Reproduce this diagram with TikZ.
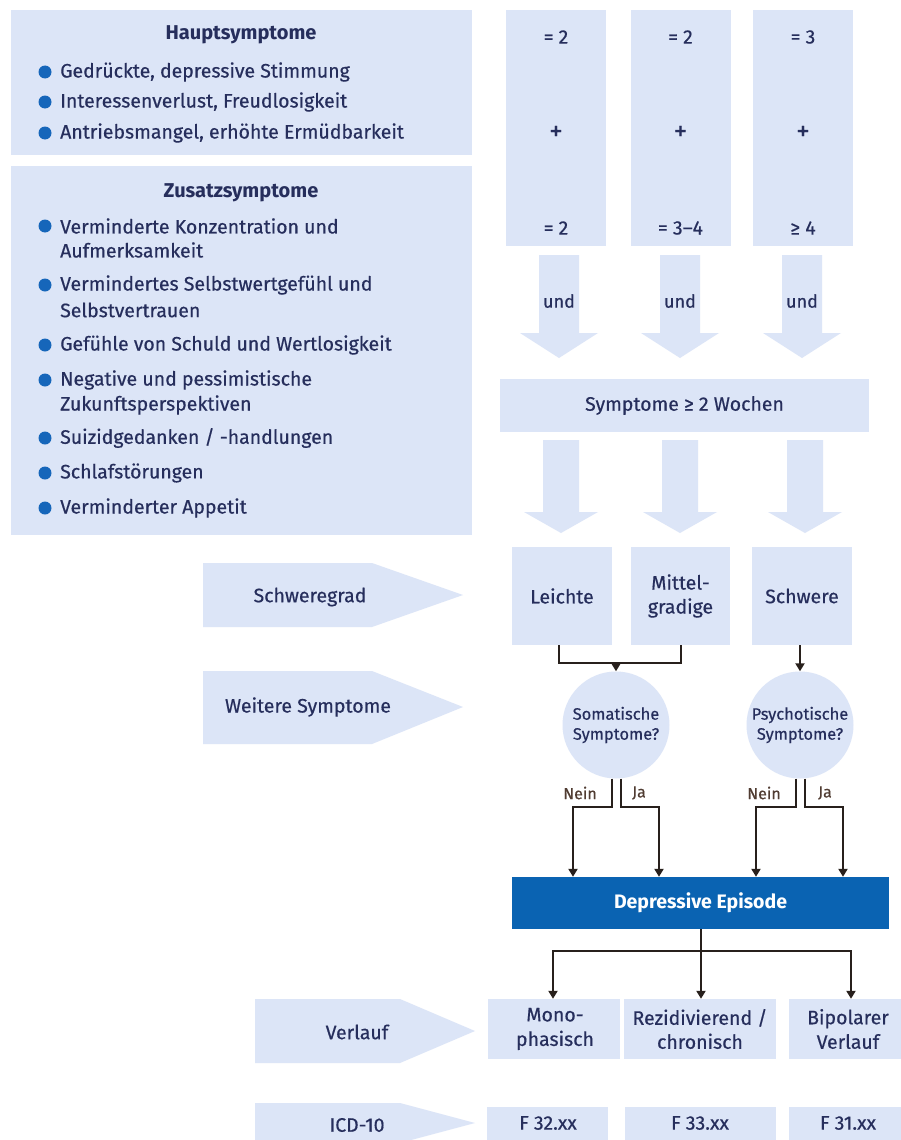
\documentclass[tikz,border=0pt]{standalone}
\usepackage{fontspec}
\setmainfont{Fira Sans}
\newfontfamily\medf{Fira Sans}[FakeBold=0.5]
\usetikzlibrary{arrows.meta}
\definecolor{lb}{RGB}{220,229,247}
\definecolor{txt}{RGB}{38,46,92}
\definecolor{bul}{RGB}{22,102,186}
\definecolor{dep}{RGB}{10,99,178}
\definecolor{ln}{RGB}{40,32,28}
\definecolor{yn}{RGB}{80,60,50}
\begin{document}
\begin{tikzpicture}[x=1pt,y=-1pt,
  box/.style={fill=lb,draw=none,inner sep=0pt,text=txt,align=center,font=\medf\fontsize{19.5}{24}\selectfont},
  lbl/.style={inner sep=0pt,text=txt,font=\medf\fontsize{19.5}{24.5}\selectfont},
  plus/.style={inner sep=0pt,text=txt,font=\medf\fontsize{27}{27}\selectfont},
  item/.style={inner sep=0pt,text=txt,anchor=west,font=\medf\fontsize{19.5}{24}\selectfont},
  head/.style={inner sep=0pt,text=txt,font=\bfseries\fontsize{20}{24}\selectfont},
  dot/.style={circle,fill=bul,inner sep=0pt,minimum size=13pt},
  circ/.style={circle,fill=lb,inner sep=0pt,minimum size=107pt,text=txt,align=center,font=\medf\fontsize{16.5}{20}\selectfont},
  yn/.style={inner sep=0pt,text=yn,font=\medf\fontsize{16}{18}\selectfont},
  conn/.style={draw=ln,line width=2pt},
  arr/.style={conn,-{Triangle[length=8pt,width=9pt]}},
  bigarrow/.style={fill=lb}]
\useasboundingbox (0,0) rectangle (901,1140);
\clip (0,0) rectangle (901,1140);
\fill[white] (0,0) rectangle (901,1140);

% left boxes
\node[box,minimum width=461pt,minimum height=145pt] (haupt) at (241.5,82.5) {};
\node[box,minimum width=461pt,minimum height=369pt] (zusatz) at (241.5,350.5) {};
\node[head] (hauptT) at (241,35) {Hauptsymptome};
\node[head] (zusatzT) at (241,193) {Zusatzsymptome};
\foreach \y/\t [count=\i] in {72/{Gedrückte, depressive Stimmung},102/{Interessenverlust, Freudlosigkeit},133/{Antriebsmangel, erhöhte Ermüdbarkeit}}{
  \node[dot] (hd\i) at (45,\y) {};
  \node[item] (h\i) at (60,\y) {\t};
}
\foreach \y/\t [count=\i] in {226/{Verminderte Konzentration und},285/{Vermindertes Selbstwertgefühl und},345/{Gefühle von Schuld und Wertlosigkeit},380/{Negative und pessimistische},438/{Suizidgedanken / -handlungen},473/{Schlafstörungen},508/{Verminderter Appetit}}{
  \node[dot] (zd\i) at (45,\y) {};
  \node[item] (z\i) at (60,\y) {\t};
}
\node[item] (z1b) at (60,250) {Aufmerksamkeit};
\node[item] (z2b) at (60,310) {Selbstvertrauen};
\node[item] (z4b) at (60,405) {Zukunftsperspektiven};

% columns
\foreach \x/\a/\b [count=\i] in {556/{= 2}/{= 2},680.5/{= 2}/{= 3–4},803/{= 3}/{≥ 4}}{
  \node[box,minimum width=100pt,minimum height=236pt] (col\i) at (\x,128) {};
  \node[lbl] (cola\i) at (\x,37) {\a};
  \node[plus] (colp\i) at (\x,133) {+};
  \node[lbl] (colb\i) at (\x,228) {\b};
}
% "und" arrows
\foreach \cx [count=\i] in {559,680,802}{
  \fill[bigarrow] ({\cx-20},255) -- ({\cx+20},255) -- ({\cx+20},333) -- ({\cx+39},333) -- (\cx,358) -- ({\cx-39},333) -- ({\cx-20},333) -- cycle;
  \node[lbl,font=\medf\fontsize{18}{20}\selectfont] (und\i) at (\cx,301) {und};
}
\node[box,minimum width=369pt,minimum height=53pt] (wochen) at (684.5,405.5) {Symptome ≥ 2 Wochen};
% second arrows
\foreach \cx in {561,680,805}{
  \fill[bigarrow] ({\cx-18},440) -- ({\cx+18},440) -- ({\cx+18},512) -- ({\cx+37},512) -- (\cx,533) -- ({\cx-37},512) -- ({\cx-18},512) -- cycle;
}
% severity boxes
\node[box,minimum width=100pt,minimum height=98pt] (leicht) at (562,596) {Leichte};
\node[box,minimum width=99pt,minimum height=98pt] (mittel) at (680.5,596) {Mittel-\\gradige};
\node[box,minimum width=100pt,minimum height=98pt] (schwer) at (802,596) {Schwere};

% pentagon labels
\fill[bigarrow] (203,563) -- (372,563) -- (463,595) -- (372,627) -- (203,627) -- cycle;
\node[lbl] (schweregrad) at (310,597) {Schweregrad};
\fill[bigarrow] (203,671) -- (372,671) -- (463,707) -- (372,744) -- (203,744) -- cycle;
\node[lbl] (weitere) at (308,707) {Weitere Symptome};
\fill[bigarrow] (255,999) -- (400,999) -- (475,1031) -- (400,1063) -- (255,1063) -- cycle;
\node[lbl] (verlauf) at (357,1032) {Verlauf};
\fill[bigarrow] (255,1103) -- (400,1103) -- (475,1123) -- (400,1143) -- (255,1143) -- cycle;
\node[lbl] (icd) at (357,1125) {ICD-10};

% circles
\node[circ] (som) at (616,725) {Somatische\\Symptome?};
\node[circ] (psy) at (800,725) {Psychotische\\Symptome?};

% connectors to circles
\coordinate (mrg) at (616,663);
\draw[conn] (leicht.south -| 559,0) -- (559,663) -- (681,663) -- (mittel.south -| 681,0);
\draw[arr] (mrg) -- (som.north);
\draw[arr] (schwer.south -| 800,0) -- (psy.north);

% depressive episode
\node[box,fill=dep,text=white,font=\bfseries\fontsize{19.5}{22}\selectfont,minimum width=377pt,minimum height=52pt] (dep) at (700.5,903) {Depressive Episode};

% Nein / Ja
\draw[arr] ([xshift=-4.5pt]som.south) -- (611.5,807) -- (573,807) -- (dep.north -| 573,0);
\draw[arr] ([xshift=4.5pt]som.south) -- (620.5,807) -- (659,807) -- (dep.north -| 659,0);
\draw[arr] ([xshift=-4.5pt]psy.south) -- (795.5,807) -- (756,807) -- (dep.north -| 756,0);
\draw[arr] ([xshift=4.5pt]psy.south) -- (804.5,807) -- (843,807) -- (dep.north -| 843,0);
\node[yn] (nein1) at (580,793) {Nein};
\node[yn] (ja1) at (639,793) {Ja};
\node[yn] (nein2) at (764,793) {Nein};
\node[yn] (ja2) at (825,793) {Ja};

% course boxes
\node[box,minimum width=132pt,minimum height=60pt] (mono) at (553.5,1029) {};
\node[lbl,align=center] (monoT) at (555,1029) {Mono-\\phasisch};
\node[box,minimum width=152pt,minimum height=60pt] (rez) at (700,1029) {Rezidivierend /\\chronisch};
\node[box,minimum width=124pt,minimum height=60pt] (bip) at (851,1029) {};
\node[lbl,align=center] (bipT) at (848,1029) {Bipolarer\\Verlauf};

\coordinate (split) at (701,951);
\draw[conn] (dep.south -| 701,0) -- (split);
\draw[conn] (553,951) -- (851,951);
\draw[arr] (553,950) -- (mono.north -| 553,0);
\draw[arr] (split) -- (rez.north -| 701,0);
\draw[arr] (851,950) -- (bip.north -| 851,0);

% ICD boxes
\node[box,minimum width=121pt,minimum height=38pt] (f32b) at (547.5,1126) {};
\node[lbl] (f32) at (548,1123) {F 32.xx};
\node[box,minimum width=151pt,minimum height=38pt] (f33b) at (700.5,1126) {};
\node[lbl] (f33) at (700,1123) {F 33.xx};
\node[box,minimum width=124pt,minimum height=38pt] (f31b) at (851,1126) {};
\node[lbl] (f31) at (848,1123) {F 31.xx};
\end{tikzpicture}
\end{document}
